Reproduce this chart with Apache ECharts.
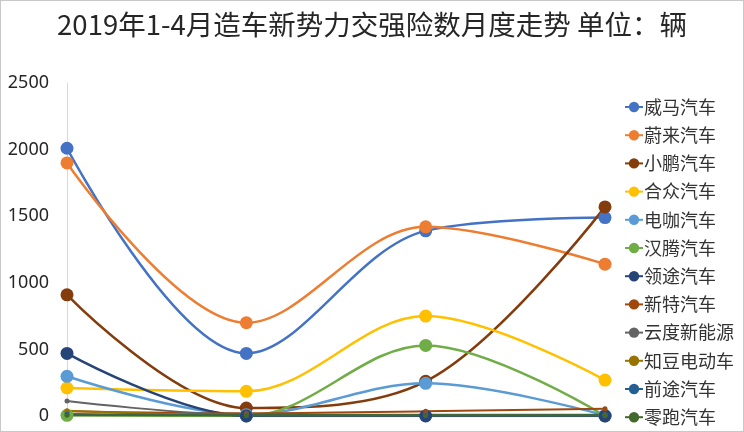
<!DOCTYPE html>
<html>
<head>
<meta charset="utf-8">
<script src="https://cdn.jsdelivr.net/npm/echarts@6/dist/echarts.min.js"></script>
<style>
  html, body { margin: 0; padding: 0; background: #fff; }
  #chart { width: 744px; height: 432px; box-sizing: border-box; border: 1px solid #c8c8c8; }
</style>
</head>
<body>
<div id="chart"></div>
<script>
// data
const months = ['1月', '2月', '3月', '4月']
const brands = ['威马汽车', '蔚来汽车', '小鹏汽车', '合众汽车', '电咖汽车', '汉腾汽车', '领途汽车',
  '新特汽车', '云度新能源', '知豆电动车', '前途汽车', '零跑汽车']
const weima = [2010, 470, 1390, 1490]
const nio = [1900, 700, 1420, 1140]
const xpeng = [910, 60, 260, 1570]
const hozon = [210, 185, 750, 270]
const dianka = [298, 10, 245, 5]
const hanteng = [5, 0, 530, 0]
const lingtu = [470, 0, 0, 0]
const xinte = [35, 20, 35, 55]
const yundu = [112, 10, 10, 10]
const zhidou = [40, 5, 5, 5]
const qiantu = [15, 5, 5, 5]
const leapmotor = [5, 5, 5, 5]
const yTicks = [0, 500, 1000, 1500, 2000, 2500]

const values = [weima, nio, xpeng, hozon, dianka, hanteng, lingtu, xinte, yundu, zhidou, qiantu, leapmotor]
const colors = ['#4472C4', '#ED7D31', '#843C0C', '#FFC000', '#5B9BD5', '#70AD47', '#264478',
  '#9E480E', '#636363', '#997300', '#255E91', '#43682B']

const chart = echarts.init(document.getElementById('chart'))
chart.setOption({
  animation: false,
  color: colors,
  title: {
    text: '2019年1-4月造车新势力交强险数月度走势 单位：辆',
    left: 'center',
    top: 5,
    textStyle: { fontFamily: 'Noto Sans CJK SC', fontSize: 27.5, fontWeight: 'normal', color: '#262626' }
  },
  legend: {
    orient: 'vertical',
    left: 618,
    top: 92,
    height: 380,
    itemWidth: 18,
    itemHeight: 13,
    itemGap: 10.2,
    textStyle: { fontFamily: 'Noto Sans CJK SC', fontSize: 18, color: '#333', padding: [0, 0, 0, -4] },
    data: brands
  },
  grid: { left: 66, right: 138, top: 82, bottom: 15 },
  xAxis: {
    type: 'category',
    data: months,
    boundaryGap: false,
    axisLine: { show: false },
    axisTick: { show: false },
    axisLabel: { show: false }
  },
  yAxis: {
    type: 'value',
    min: yTicks[0],
    max: yTicks[yTicks.length - 1],
    interval: 500,
    axisLine: { show: true, lineStyle: { color: '#d9d9d9' } },
    axisTick: { show: false },
    splitLine: { show: false },
    axisLabel: { fontFamily: 'Noto Sans', fontSize: 18, color: '#262626', margin: 18, formatter: v => String(v) }
  },
  series: brands.map((name, i) => ({
    name: name,
    type: 'line',
    data: values[i],
    smooth: 0.35,
    symbol: 'circle',
    symbolSize: i < 7 ? 13 : 5,
    lineStyle: { width: i < 7 ? 2.5 : 2 }
  }))
})
</script>
</body>
</html>
